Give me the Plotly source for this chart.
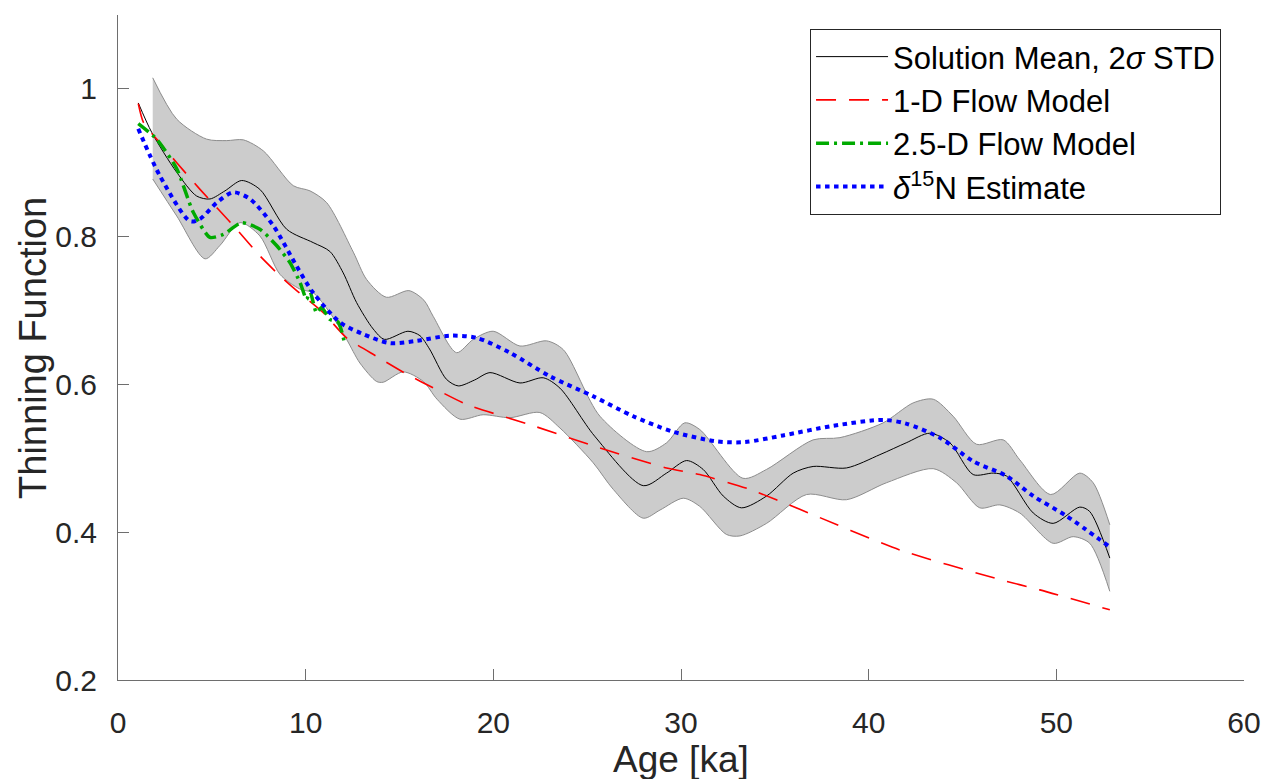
import plotly.graph_objects as go

# ---------------- data ----------------
mean_x = [1.08, 1.8, 3.13, 4.19, 4.9, 5.7, 6.59, 7.56, 8.99, 10.4, 11.29, 12.0, 12.71, 13.6, 14.2,
          15.45, 16.09, 16.6, 17.5, 18.13, 19.0, 19.82, 21.42, 22.66, 23.55, 25.4, 27.99, 29.23, 30.3,
          31.18, 32.25, 33.22, 34.56, 35.98, 37.04, 38.82, 40.6, 42.0, 43.26, 44.33, 45.57, 46.64,
          47.35, 48.77, 49.83, 51.25, 51.78, 52.85]
mean_y = [0.981, 0.941, 0.887, 0.855, 0.851, 0.862, 0.876, 0.864, 0.810, 0.792, 0.780, 0.751, 0.711,
          0.675, 0.661, 0.672, 0.666, 0.648, 0.607, 0.598, 0.606, 0.616, 0.602, 0.609, 0.595, 0.530,
          0.463, 0.480, 0.497, 0.485, 0.449, 0.433, 0.449, 0.480, 0.489, 0.487, 0.505, 0.521, 0.534,
          0.521, 0.478, 0.480, 0.476, 0.426, 0.412, 0.434, 0.428, 0.365]

upper_x = [1.85, 3.13, 4.72, 5.79, 6.68, 7.75, 9.34, 10.23, 11.12, 12.54, 13.25, 14.3, 15.5, 16.3,
           16.8, 18.04, 18.93, 19.99, 21.42, 22.84, 23.73, 25.68, 28.17, 29.23, 30.2, 31.0, 33.3,
           34.56, 37.04, 38.47, 40.77, 42.37, 43.44, 44.5, 45.75, 47.17, 48.05, 49.7, 51.25, 51.96,
           52.85]
upper_y = [1.015, 0.959, 0.932, 0.930, 0.931, 0.916, 0.869, 0.862, 0.846, 0.779, 0.742, 0.718, 0.727,
           0.714, 0.692, 0.643, 0.661, 0.672, 0.652, 0.659, 0.647, 0.557, 0.509, 0.521, 0.548, 0.539,
           0.473, 0.485, 0.525, 0.528, 0.548, 0.575, 0.580, 0.557, 0.519, 0.525, 0.498, 0.451, 0.480,
           0.467, 0.410]

lower_x = [1.85, 3.13, 4.64, 5.43, 6.5, 7.56, 8.63, 9.7, 10.4, 11.29, 12.18, 12.89, 13.78, 14.13,
           15.2, 16.27, 17.0, 18.22, 19.46, 20.88, 22.48, 23.55, 25.32, 26.39, 27.99, 28.88, 30.12,
           31.0, 32.42, 33.14, 34.56, 36.69, 38.82, 40.95, 43.44, 44.68, 45.92, 46.99, 48.05, 49.83,
           50.9, 51.78, 52.85]
lower_y = [0.878, 0.828, 0.770, 0.788, 0.819, 0.801, 0.749, 0.729, 0.724, 0.697, 0.661, 0.629, 0.604,
           0.603, 0.617, 0.604, 0.580, 0.553, 0.559, 0.555, 0.562, 0.541, 0.494, 0.458, 0.419, 0.430,
           0.446, 0.435, 0.397, 0.395, 0.412, 0.451, 0.444, 0.467, 0.486, 0.467, 0.433, 0.437, 0.426,
           0.385, 0.394, 0.385, 0.320]

flow1d_x = [1.08, 1.35, 2.3, 3.13, 4.37, 6.32, 7.56, 8.63, 9.52, 10.94, 12.18, 13.78, 15.38, 16.98,
            18.58, 22.13, 25.68, 29.23, 31.0, 33.67, 36.33, 41.66, 46.99, 49.12, 52.85]
flow1d_y = [0.980, 0.955, 0.925, 0.900, 0.864, 0.810, 0.774, 0.747, 0.727, 0.697, 0.663, 0.638, 0.614,
            0.593, 0.573, 0.544, 0.514, 0.487, 0.478, 0.458, 0.431, 0.376, 0.336, 0.322, 0.295]

flow25d_x = [1.08, 2.06, 3.13, 4.01, 4.9, 5.61, 6.59, 7.56, 8.45, 9.16, 9.7, 10.05, 10.23, 10.58,
             10.85, 11.29, 11.74, 12.09]
flow25d_y = [0.953, 0.932, 0.892, 0.833, 0.799, 0.803, 0.819, 0.810, 0.788, 0.765, 0.738, 0.715,
             0.726, 0.697, 0.704, 0.688, 0.684, 0.654]

d15n_x = [1.08, 2.24, 3.84, 4.37, 5.26, 6.14, 7.03, 8.27, 9.52, 10.4, 11.83, 13.07, 14.49, 15.91,
          17.69, 19.11, 20.88, 23.02, 25.32, 27.45, 29.58, 31.89, 33.4, 35.44, 38.11, 40.77, 42.0,
          43.79, 45.57, 47.35, 48.77, 50.54, 52.85]
d15n_y = [0.946, 0.882, 0.821, 0.824, 0.846, 0.860, 0.851, 0.815, 0.760, 0.724, 0.684, 0.668, 0.656,
          0.659, 0.666, 0.663, 0.643, 0.611, 0.584, 0.557, 0.536, 0.523, 0.522, 0.531, 0.544, 0.552,
          0.547, 0.528, 0.496, 0.476, 0.449, 0.422, 0.380]

x_ticks = [0, 10, 20, 30, 40, 50, 60]
y_ticks = [0.2, 0.4, 0.6, 0.8, 1.0]
y_tick_labels = ["0.2", "0.4", "0.6", "0.8", "1"]

legend_names = ["Solution Mean, 2<i>σ</i> STD", "1-D Flow Model", "2.5-D Flow Model",
                "<i>δ</i><sup>15</sup>N Estimate"]

FONT = "Liberation Sans, Arial, Helvetica, sans-serif"

fig = go.Figure()

# band
fig.add_trace(go.Scatter(x=lower_x, y=lower_y, mode="lines", line=dict(color="#8c8c8c", width=1, shape="spline", smoothing=0.8),
                         showlegend=False, hoverinfo="skip"))
fig.add_trace(go.Scatter(x=upper_x, y=upper_y, mode="lines", line=dict(color="#8c8c8c", width=1, shape="spline", smoothing=0.8),
                         fill="tonexty", fillcolor="#cccccc", showlegend=False, hoverinfo="skip"))

fig.add_trace(go.Scatter(x=mean_x, y=mean_y, mode="lines", name=legend_names[0],
                         line=dict(color="black", width=1, shape="spline", smoothing=0.8)))
fig.add_trace(go.Scatter(x=flow1d_x, y=flow1d_y, mode="lines", name=legend_names[1],
                         line=dict(color="#ff0000", width=1.6, dash="20px,13px", shape="spline", smoothing=0.6)))
fig.add_trace(go.Scatter(x=flow25d_x, y=flow25d_y, mode="lines", name=legend_names[2],
                         line=dict(color="#00aa00", width=3.5, dash="13px,5px,3px,5px", shape="spline", smoothing=0.6)))
fig.add_trace(go.Scatter(x=d15n_x, y=d15n_y, mode="lines", name=legend_names[3],
                         line=dict(color="#0000ff", width=4, dash="4.5px,4.5px", shape="spline", smoothing=0.8)))

axis_common = dict(showgrid=False, zeroline=False, showline=True, linecolor="#6e6e6e", linewidth=1,
                   ticks="inside", ticklen=11, tickcolor="#6e6e6e", tickwidth=1, mirror=False,
                   automargin=False,
                   tickfont=dict(family=FONT, size=30, color="#262626"))

fig.update_xaxes(range=[0, 60], tickvals=x_ticks, ticklabelstandoff=16, **axis_common)
fig.update_yaxes(range=[0.2, 1.1], tickvals=y_ticks, ticktext=y_tick_labels, ticklabelstandoff=14, **axis_common)

fig.add_annotation(text="Age [ka]", xref="paper", yref="paper", x=0.5, y=-0.119, xanchor="center",
                   yanchor="middle", showarrow=False, font=dict(family=FONT, size=37, color="#262626"))
fig.add_annotation(text="Thinning Function", xref="paper", yref="paper", x=-0.076, y=0.5, xanchor="center",
                   yanchor="middle", textangle=-90, showarrow=False, font=dict(family=FONT, size=38, color="#262626"))

fig.update_layout(
    width=1266, height=779,
    margin=dict(l=118, r=22, t=15, b=99, autoexpand=False),
    paper_bgcolor="white", plot_bgcolor="white",
    legend=dict(x=0.6146, y=0.979, xanchor="left", yanchor="top", bgcolor="white",
                bordercolor="#262626", borderwidth=1, font=dict(family=FONT, size=31, color="black"),
                itemwidth=72, tracegroupgap=0, traceorder="normal"),
)

fig.write_html("out.html")
